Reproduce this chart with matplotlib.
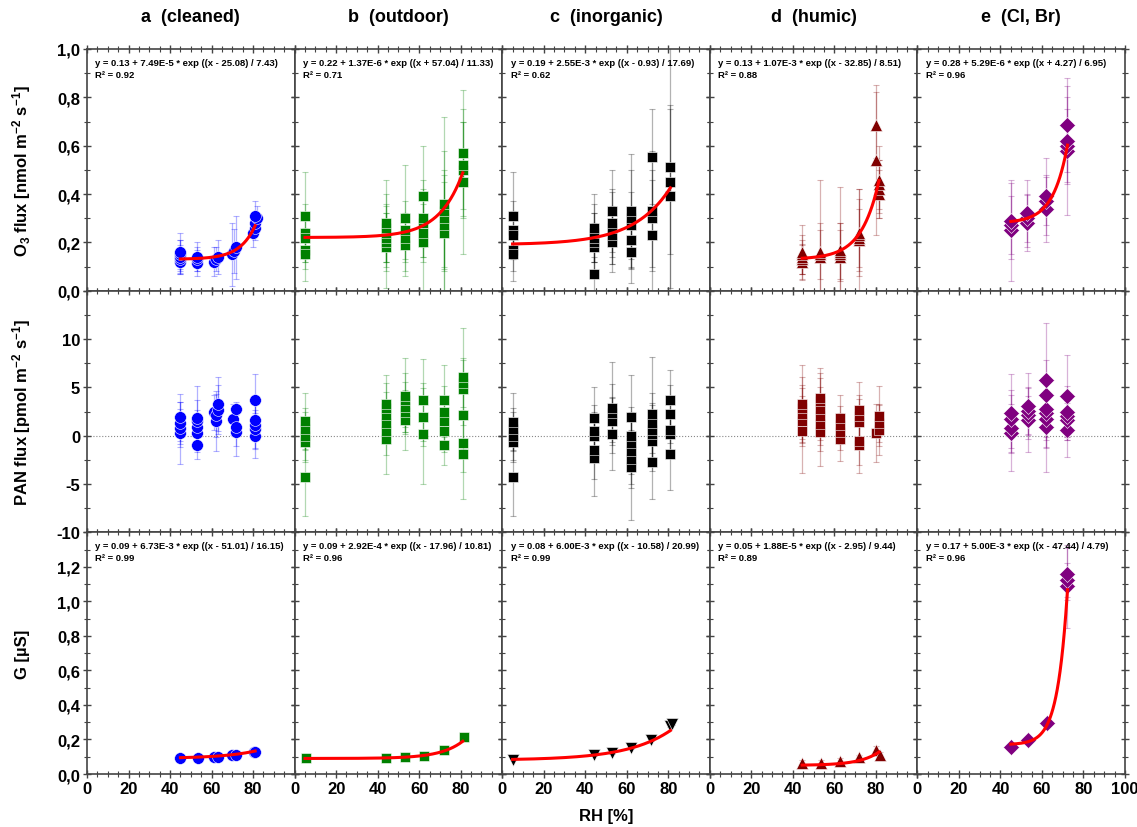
import numpy as np
import matplotlib
matplotlib.use('Agg')
import matplotlib.pyplot as plt
from matplotlib.ticker import MultipleLocator, FuncFormatter

plt.rcParams['font.family'] = ['Liberation Sans', 'DejaVu Sans']
plt.rcParams['font.weight'] = 'bold'
plt.rcParams['mathtext.fontset'] = 'custom'
plt.rcParams['mathtext.rm'] = 'Liberation Sans:bold'
plt.rcParams['mathtext.it'] = 'Liberation Sans:bold'
plt.rcParams['mathtext.bf'] = 'Liberation Sans:bold'
plt.rcParams['mathtext.default'] = 'rm'

col_titles = ['a  (cleaned)', 'b  (outdoor)', 'c  (inorganic)', 'd  (humic)', 'e  (Cl, Br)']
colors = ['#0000ff', '#008000', '#000000', '#800000', '#800080']
row_markers = [['o', 's', 's', '^', 'D'],
               ['o', 's', 's', 's', 'D'],
               ['o', 's', 'v', '^', 'D']]

# ---- O3 flux [nmol m-2 s-1] ----
o3_a_x = [45, 45, 45, 45, 45, 53, 53, 53, 61, 62, 63, 70, 71, 72, 80, 81, 81, 82, 81]
o3_a_y = [0.12, 0.13, 0.14, 0.15, 0.16, 0.115, 0.13, 0.14, 0.12, 0.13, 0.14, 0.15, 0.165, 0.18,
          0.24, 0.26, 0.28, 0.30, 0.31]
o3_a_err = [0.045, 0.06, 0.07, 0.06, 0.08, 0.055, 0.05, 0.06, 0.06, 0.05, 0.07, 0.13, 0.09, 0.13,
            0.06, 0.05, 0.04, 0.05, 0.06]

o3_b_x = [5] * 5 + [44] * 6 + [53] * 4 + [62] * 5 + [72] * 5 + [81] * 4
o3_b_y = [0.31, 0.24, 0.22, 0.17, 0.15, 0.18, 0.20, 0.22, 0.24, 0.26, 0.28, 0.19, 0.22, 0.25, 0.30,
          0.20, 0.24, 0.28, 0.30, 0.39, 0.24, 0.27, 0.30, 0.33, 0.36, 0.45, 0.50, 0.52, 0.57]
o3_b_err = [0.18, 0.12, 0.10, 0.08, 0.11, 0.17, 0.12, 0.10, 0.12, 0.14, 0.18, 0.13, 0.10, 0.12, 0.22,
            0.20, 0.12, 0.14, 0.16, 0.21, 0.24, 0.18, 0.20, 0.25, 0.36, 0.30, 0.20, 0.18, 0.26]

o3_c_x = [5] * 5 + [44] * 6 + [53] * 5 + [62] * 5 + [72] * 4 + [81] * 3
o3_c_y = [0.31, 0.25, 0.23, 0.17, 0.15, 0.07, 0.18, 0.20, 0.22, 0.24, 0.26, 0.20, 0.23, 0.26, 0.28,
          0.33, 0.16, 0.21, 0.27, 0.30, 0.33, 0.23, 0.30, 0.33, 0.555, 0.39, 0.45, 0.51]
o3_c_err = [0.18, 0.12, 0.10, 0.09, 0.11, 0.07, 0.10, 0.12, 0.10, 0.12, 0.14, 0.124, 0.12, 0.15, 0.14,
            0.17, 0.13, 0.12, 0.14, 0.20, 0.237, 0.23, 0.20, 0.25, 0.195, 0.38, 0.30, 0.70]

o3_d_x = [44.5] * 5 + [53] * 3 + [62.5] * 4 + [72] * 4 + [80, 80] + [81.5] * 4
o3_d_y = [0.12, 0.13, 0.14, 0.15, 0.16, 0.14, 0.15, 0.16, 0.14, 0.15, 0.16, 0.17, 0.21, 0.22, 0.23,
          0.24, 0.54, 0.685, 0.40, 0.42, 0.44, 0.46]
o3_d_err = [0.074, 0.06, 0.07, 0.08, 0.11, 0.14, 0.10, 0.30, 0.14, 0.10, 0.12, 0.26, 0.21, 0.12, 0.15,
            0.18, 0.31, 0.138, 0.10, 0.12, 0.10, 0.14]

o3_e_x = [45] * 3 + [53] * 3 + [62] * 3 + [72] * 4
o3_e_y = [0.25, 0.27, 0.29, 0.28, 0.30, 0.32, 0.34, 0.37, 0.39, 0.58, 0.60, 0.62, 0.685]
o3_e_err = [0.21, 0.12, 0.157, 0.117, 0.10, 0.14, 0.14, 0.10, 0.16, 0.265, 0.15, 0.18, 0.195]

# ---- PAN flux [pmol m-2 s-1] ----
pan_a_x = [45] * 4 + [53] * 5 + [61, 62, 62, 63, 63] + [70.5, 72, 72, 72] + [81] * 5
pan_a_y = [0.3, 0.8, 1.3, 1.9, -1.0, 0.3, 0.9, 1.5, 1.8, 2.4, 1.5, 2.1, 2.7, 3.3, 1.7, 2.8, 0.4, 0.9,
           0.0, 0.7, 1.1, 1.6, 3.7]
pan_a_err = [3.2, 2.0, 2.2, 2.4, 1.4, 2.0, 1.8, 2.2, 3.3, 1.8, 3.1, 2.2, 2.5, 2.8, 1.6, 0.7, 2.5, 2.0,
             2.3, 2.0, 2.5, 2.2, 2.7]

pan_b_x = [5] * 5 + [44] * 6 + [53] * 5 + [62] * 3 + [72] * 5 + [81] * 6
pan_b_y = [-4.3, -0.7, 0.0, 0.7, 1.5, -0.3, 0.5, 1.3, 2.1, 2.9, 3.3, 1.6, 2.4, 3.0, 3.7, 4.1, 0.2, 1.9,
           3.7, -1.0, 0.5, 1.5, 2.5, 3.7, -1.9, -0.8, 2.1, 4.8, 5.5, 6.1]
pan_b_err = [4.0, 2.0, 2.5, 2.2, 2.9, 3.7, 2.5, 2.0, 2.4, 2.6, 3.0, 3.1, 2.0, 2.6, 2.8, 3.9, 5.2, 3.0,
             4.2, 2.0, 2.2, 2.4, 2.6, 3.6, 4.6, 3.0, 3.5, 3.0, 2.5, 5.0]

pan_c_x = [5] * 5 + [44] * 5 + [53] * 4 + [62] * 6 + [72] * 6 + [81] * 5
pan_c_y = [-4.3, -0.7, 0.0, 0.7, 1.4, -2.3, -1.5, 0.0, 0.5, 1.8, 0.2, 1.5, 2.3, 2.9, -3.2, -2.4, -1.6,
           -0.8, 0.0, 1.9, -2.7, -0.6, 0.2, 0.6, 1.3, 2.2, -1.9, 0.2, 0.6, 2.2, 3.7]
pan_c_err = [4.0, 2.0, 2.5, 2.2, 3.0, 3.9, 3.0, 2.5, 2.7, 3.2, 3.7, 2.5, 3.0, 4.7, 5.5, 3.0, 3.4,
             3.2, 3.0, 4.4, 3.9, 2.5, 3.0, 2.8, 3.1, 5.9, 3.7, 2.5, 2.8, 3.0, 3.1]

pan_d_x = [44.5] * 5 + [53] * 6 + [62.5] * 4 + [72] * 5 + [80] + [81.5] * 3
pan_d_y = [0.5, 1.5, 2.2, 2.9, 3.3, 0.4, 1.2, 2.0, 2.8, 3.6, 3.9, -0.3, 0.4, 1.1, 1.8, -1.0, -0.5,
           1.4, 2.0, 2.7, 0.3, 0.6, 1.3, 2.0]
pan_d_err = [4.4, 2.6, 3.0, 3.2, 4.0, 3.5, 2.8, 3.0, 3.2, 2.9, 3.1, 2.3, 1.9, 2.0, 2.4, 2.9, 2.5,
             2.4, 2.2, 2.9, 3.0, 2.6, 2.0, 3.1]

pan_e_x = [45] * 4 + [53.5] * 4 + [62] * 6 + [72] * 5
pan_e_y = [0.3, 0.8, 1.7, 2.3, 1.6, 2.1, 2.6, 3.1, 0.9, 1.7, 2.3, 2.8, 4.2, 5.8, 0.6, 1.6, 2.0, 2.5, 4.1]
pan_e_err = [3.95, 2.5, 3.0, 4.1, 3.3, 2.0, 2.4, 3.4, 4.7, 3.0, 3.5, 3.2, 3.6, 5.9, 2.8, 2.0, 2.4, 2.6, 4.2]

# ---- G [uS] ----
g_a_x = [45, 53.5, 61, 63, 70, 72, 80.5, 81]
g_a_y = [0.090, 0.093, 0.096, 0.097, 0.108, 0.110, 0.125, 0.130]
g_a_err = [0.004, 0.004, 0.004, 0.004, 0.004, 0.004, 0.005, 0.005]

g_b_x = [5.5, 44, 53, 62.5, 72, 81.5]
g_b_y = [0.090, 0.092, 0.097, 0.103, 0.140, 0.216]
g_b_err = [0.004, 0.004, 0.004, 0.004, 0.005, 0.005]

g_c_x = [5, 44, 53, 62, 71.5, 81, 82]
g_c_y = [0.083, 0.110, 0.120, 0.150, 0.196, 0.280, 0.290]
g_c_err = [0.004, 0.004, 0.004, 0.005, 0.005, 0.006, 0.006]

g_d_x = [44.5, 53.5, 62.5, 72, 80, 82]
g_d_y = [0.062, 0.062, 0.073, 0.096, 0.140, 0.110]
g_d_err = [0.02, 0.02, 0.02, 0.015, 0.02, 0.02]

g_e_x = [45, 53.5, 62.5, 72, 72, 72]
g_e_y = [0.154, 0.198, 0.293, 1.088, 1.123, 1.160]
g_e_err = [0.01, 0.01, 0.01, 0.24, 0.10, 0.15]

# exponential fits y = y0 + A * exp((x - xc) / t)
o3_fit = [(0.13, 7.49e-5, 25.08, 7.43), (0.22, 1.37e-6, -57.04, 11.33), (0.19, 2.55e-3, 0.93, 17.69),
          (0.13, 1.07e-3, 32.85, 8.51), (0.28, 5.29e-6, -4.27, 6.95)]
o3_r2 = [0.92, 0.71, 0.62, 0.88, 0.96]
g_fit = [(0.09, 6.73e-3, 51.01, 16.15), (0.09, 2.92e-4, 17.96, 10.81), (0.08, 6.00e-3, 10.58, 20.99),
         (0.05, 1.88e-5, 2.95, 9.44), (0.17, 5.00e-3, 47.44, 4.79)]
g_r2 = [0.99, 0.96, 0.99, 0.89, 0.96]
fit_lo = [45, 5, 5, 44.5, 45]
fit_hi = [81, 81, 81, 81.5, 72.3]

rows = [
    [(o3_a_x, o3_a_y, o3_a_err), (o3_b_x, o3_b_y, o3_b_err), (o3_c_x, o3_c_y, o3_c_err),
     (o3_d_x, o3_d_y, o3_d_err), (o3_e_x, o3_e_y, o3_e_err)],
    [(pan_a_x, pan_a_y, pan_a_err), (pan_b_x, pan_b_y, pan_b_err), (pan_c_x, pan_c_y, pan_c_err),
     (pan_d_x, pan_d_y, pan_d_err), (pan_e_x, pan_e_y, pan_e_err)],
    [(g_a_x, g_a_y, g_a_err), (g_b_x, g_b_y, g_b_err), (g_c_x, g_c_y, g_c_err),
     (g_d_x, g_d_y, g_d_err), (g_e_x, g_e_y, g_e_err)],
]
fits = [o3_fit, None, g_fit]
r2s = [o3_r2, None, g_r2]
ylims = [(0, 1.0), (-10, 15), (0, 1.4)]
ymajor = [0.2, 5, 0.2]
yminor = [0.1, 2.5, 0.1]
ylabels = ['O$_3$ flux [nmol m$^{-2}$ s$^{-1}$]', 'PAN flux [pmol m$^{-2}$ s$^{-1}$]', 'G [µS]']
msizes = {'o': 8.5, 's': 7.5, '^': 9, 'v': 9, 'D': 8}


def eq_text(p):
    y0, A, xc, t = p
    mant, ex = f'{A:.2E}'.split('E')
    sign = '-' if xc >= 0 else '+'
    return f'y = {y0:.2f} + {mant}E{int(ex)} * exp ((x {sign} {abs(xc):.2f}) / {t:.2f})'


fig = plt.figure(figsize=(11.37, 8.28), dpi=100)
axes = fig.subplots(3, 5, sharey='row', gridspec_kw=dict(hspace=0, wspace=0))
fig.subplots_adjust(left=87 / 1137, right=1125 / 1137, top=1 - 50 / 828, bottom=1 - 775 / 828)

for r in range(3):
    for c in range(5):
        ax = axes[r, c]
        x, y, e = rows[r][c]
        col = colors[c]
        ax.errorbar(x, y, yerr=e, fmt='none', ecolor=col, elinewidth=0.9, capsize=2,
                    capthick=0.8, alpha=0.3, zorder=2)
        m = row_markers[r][c]
        ax.plot(x, y, ls='none', marker=m, ms=msizes[m], color=col, mec='white', mew=0.4, zorder=3)
        if fits[r] is not None:
            y0, A, xc, t = fits[r][c]
            xx = np.linspace(fit_lo[c], fit_hi[c], 200)
            ax.plot(xx, y0 + A * np.exp((xx - xc) / t), color='red', lw=2.2, zorder=4)
            ax.text(0.04, 0.945, eq_text(fits[r][c]), transform=ax.transAxes, fontsize=6.8,
                    va='center', ha='left')
            ax.text(0.04, 0.895, f'R² = {r2s[r][c]:.2f}', transform=ax.transAxes, fontsize=6.8,
                    va='center', ha='left')
        if r == 1:
            ax.axhline(0, color='#888888', ls=':', lw=0.8, zorder=1)

        ax.set_xlim(0, 100)
        ax.set_ylim(*ylims[r])
        ax.xaxis.set_major_locator(MultipleLocator(20))
        ax.xaxis.set_minor_locator(MultipleLocator(5))
        ax.yaxis.set_major_locator(MultipleLocator(ymajor[r]))
        ax.yaxis.set_minor_locator(MultipleLocator(yminor[r]))
        ax.tick_params(which='both', direction='inout', top=True, right=True,
                       color='#444444', labelsize=12, pad=2)
        ax.tick_params(which='major', length=6, width=1)
        ax.tick_params(which='minor', length=4, width=0.8)
        for sp in ax.spines.values():
            sp.set_color('#444444')
            sp.set_linewidth(1.2)

        if r in (0, 2):
            top_lab = 1.0 if r == 0 else 1.2
            ax.yaxis.set_major_formatter(FuncFormatter(
                lambda v, p, tl=top_lab: f'{v:.1f}'.replace('.', ',') if v <= tl + 1e-9 else ''))
        else:
            ax.yaxis.set_major_formatter(FuncFormatter(
                lambda v, p: f'{v:g}' if v <= 10 else ''))

        if r < 2:
            ax.tick_params(labelbottom=False)
        elif c < 4:
            ax.xaxis.set_major_formatter(FuncFormatter(lambda v, p: f'{v:g}' if v < 99 else ''))
        else:
            ax.xaxis.set_major_formatter(FuncFormatter(lambda v, p: f'{v:g}'))

for c in range(5):
    pos = axes[0, c].get_position()
    fig.text((pos.x0 + pos.x1) / 2, 1 - 18 / 828, col_titles[c], ha='center', va='center', fontsize=13)

for r in range(3):
    pos = axes[r, 0].get_position()
    fig.text(22 / 1137, (pos.y0 + pos.y1) / 2, ylabels[r], rotation=90, ha='center', va='center',
             fontsize=12)

fig.text(606 / 1137, 1 - 817 / 828, 'RH [%]', ha='center', va='center', fontsize=12)

fig.savefig('out.png', dpi=100)
